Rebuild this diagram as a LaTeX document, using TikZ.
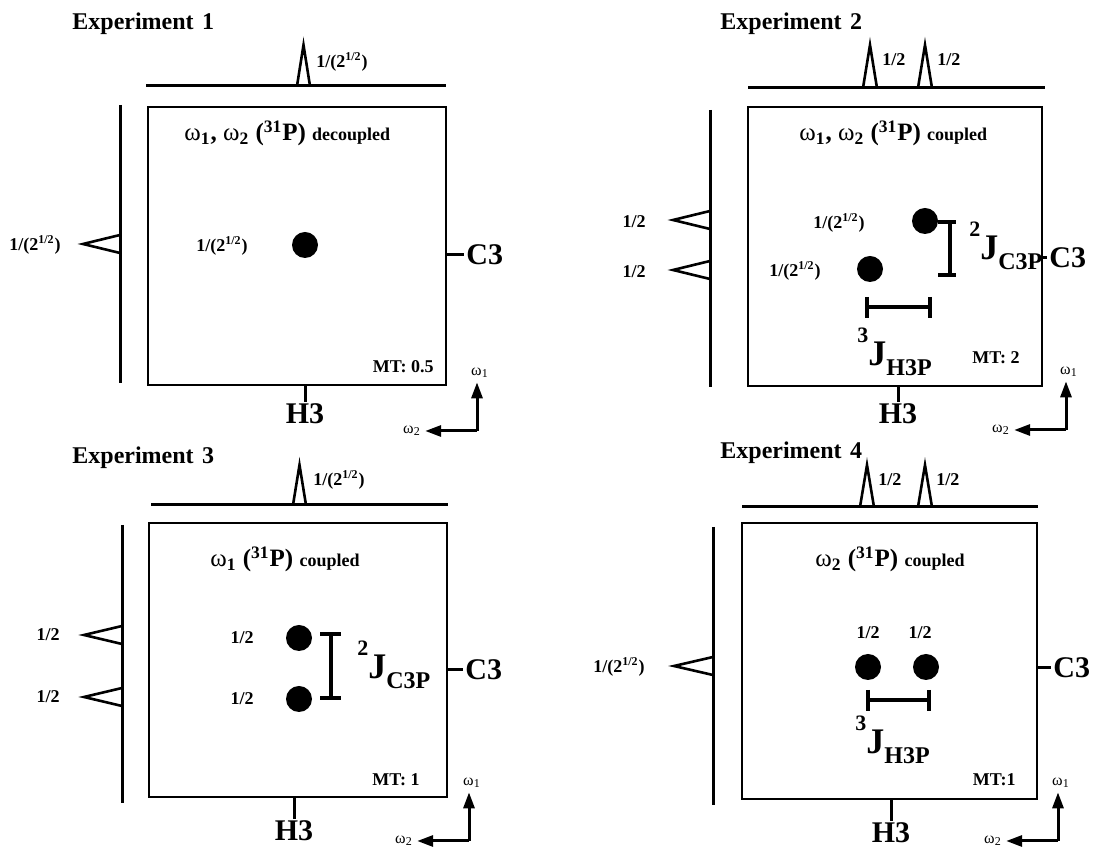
\documentclass[tikz,border=0pt]{standalone}
\usepackage{fontspec}
\setmainfont{Liberation Serif}
\usetikzlibrary{arrows.meta}
\newcommand{\coupj}[2]{\raisebox{11.5pt}{\fontsize{11}{12}\selectfont #1}{\fontsize{18}{20}\selectfont J}\raisebox{-5pt}{\fontsize{12}{13}\selectfont #2}}
\newcommand{\rtwo}{1/(2\textsuperscript{1/2})}
\newcommand{\phos}{(\textsuperscript{31}P)}
\newcommand{\omg}[1]{{\mdseries ω}\textsubscript{#1}}

\begin{document}
\begin{tikzpicture}[x=0.5pt,y=-0.5pt,
  spec/.style={line width=1.5pt},
  frame/.style={line width=1.1pt},
  peak/.style={line width=1.3pt, line join=miter},
  tick/.style={line width=1.5pt},
  jbar/.style={line width=1.7pt},
  axarr/.style={line width=1.5pt, -{Triangle[length=8pt,width=5.5pt]}},
  spot/.style={circle, fill=black, inner sep=0pt, minimum size=13pt},
  lab/.style={font=\fontsize{9}{10}\selectfont\bfseries, inner sep=1pt},
  ttl/.style={font=\fontsize{12}{14}\selectfont\bfseries, inner sep=0pt},
  hdr/.style={font=\fontsize{12.5}{14}\selectfont\bfseries, inner sep=0pt},
  nuc/.style={font=\fontsize{15}{16}\selectfont\bfseries, inner sep=1pt},
  cpl/.style={font=\bfseries, inner sep=0pt},
  axlab/.style={font=\fontsize{8}{9}\selectfont, inner sep=2pt}]

  \useasboundingbox (0,0) rectangle (1100,849);

  % Experiment 1
  \node[ttl, anchor=base west] (ttlone) at (72,30) {Experiment\hspace{0.35em}1};
  \draw[spec] (146,86) -- (446,86);
  \draw[peak] (297,86) -- (303.5,45) -- (310,86);
  \node[lab, anchor=west] (topone) at (314,62) {\rtwo};
  \draw[frame] (148,107) rectangle (446,385);
  \draw[spec] (120,105) -- (120,383);
  \draw[peak] (120,235) -- (83,244) -- (120,253);
  \node[lab, anchor=east] (sideone) at (63,245) {\rtwo};
  \node[hdr, anchor=base west] (hdrone) at (184,141) {\omg{1}, \omg{2} \phos\ {\fontsize{9}{10}\selectfont decoupled}};
  \node[spot] (dotone) at (305,245) {};
  \node[lab, anchor=east] (dlabone) at (250,246) {\rtwo};
  \node[lab, anchor=east] (mtone) at (436,367) {MT: 0.5};
  \node[nuc, anchor=west] (cone) at (464,255) {C3};
  \draw[tick] (446,255) -- (cone.west);
  \node[nuc] (hone) at (305,414) {H3};
  \draw[tick] (305,385) -- (hone.north);

  % Experiment 2
  \node[ttl, anchor=base west] (ttltwo) at (720,30) {Experiment\hspace{0.35em}2};
  \draw[spec] (748,88) -- (1045,88);
  \foreach \px in {870,925} \draw[peak] ({\px-7},88) -- (\px,45) -- ({\px+7},88);
  \node[lab, anchor=west] (toptwoa) at (880,60) {1/2};
  \node[lab, anchor=west] (toptwob) at (935,60) {1/2};
  \draw[frame] (748,107) rectangle (1042,386);
  \draw[spec] (710,110) -- (710,387);
  \foreach \py in {220,270} \draw[peak] (710,{\py-9}) -- (673,\py) -- (710,{\py+9});
  \node[lab, anchor=east] (sidetwoa) at (648,222) {1/2};
  \node[lab, anchor=east] (sidetwob) at (648,272) {1/2};
  \node[hdr, anchor=base west] (hdrtwo) at (799,141) {\omg{1}, \omg{2} \phos\ {\fontsize{9}{10}\selectfont coupled}};
  \node[spot] (dottwoa) at (925,221) {};
  \node[spot] (dottwob) at (870,269) {};
  \node[lab, anchor=east] (dlabtwoa) at (867,223) {\rtwo};
  \node[lab, anchor=east] (dlabtwob) at (823,271) {\rtwo};
  \draw[jbar] (950,222) -- (950,275) (938,222) -- (956,222) (938,275) -- (956,275);
  \node[cpl, anchor=base west] (jtwoa) at (969,260) {\coupj{2}{C3P}};
  \node[nuc, anchor=west] (ctwo) at (1047,258) {C3};
  \draw[tick] (1042,258) -- (ctwo.west);
  \draw[jbar] (867,307) -- (930,307) (867,297) -- (867,318) (930,297) -- (930,318);
  \node[cpl, anchor=base west] (jtwob) at (857,366) {\coupj{3}{H3P}};
  \node[lab, anchor=east] (mttwo) at (1022,358) {MT: 2};
  \node[nuc] (htwo) at (898,414) {H3};
  \draw[tick] (898,386) -- (htwo.north);

  % Experiment 3
  \node[ttl, anchor=base west] (ttlthree) at (72,464) {Experiment\hspace{0.35em}3};
  \draw[spec] (151,505) -- (448,505);
  \draw[peak] (293,505) -- (299.5,465) -- (306,505);
  \node[lab, anchor=west] (topthree) at (311,480) {\rtwo};
  \draw[frame] (149,523) rectangle (447,797);
  \draw[spec] (122,525) -- (122,803);
  \foreach \py in {635,697} \draw[peak] (122,{\py-9}) -- (84,\py) -- (122,{\py+9});
  \node[lab, anchor=east] (sidethreea) at (62,635) {1/2};
  \node[lab, anchor=east] (sidethreeb) at (62,697) {1/2};
  \node[hdr, anchor=base west] (hdrthree) at (210,567) {\omg{1} \phos\ {\fontsize{9}{10}\selectfont coupled}};
  \node[spot] (dotthreea) at (299,638) {};
  \node[spot] (dotthreeb) at (299,699) {};
  \node[lab, anchor=east] (dlabthreea) at (256,638) {1/2};
  \node[lab, anchor=east] (dlabthreeb) at (256,699) {1/2};
  \draw[jbar] (331,634) -- (331,698) (320,634) -- (341,634) (320,698) -- (341,698);
  \node[cpl, anchor=base west] (jthree) at (357,679) {\coupj{2}{C3P}};
  \node[nuc, anchor=west] (cthree) at (463,670) {C3};
  \draw[tick] (447,670) -- (cthree.west);
  \node[lab, anchor=east] (mtthree) at (422,780) {MT: 1};
  \node[nuc] (hthree) at (294,831) {H3};
  \draw[tick] (294,797) -- (hthree.north);

  % Experiment 4
  \node[ttl, anchor=base west] (ttlfour) at (720,459) {Experiment\hspace{0.35em}4};
  \draw[spec] (742,507) -- (1038,507);
  \foreach \px in {867,925} \draw[peak] ({\px-7},507) -- (\px,465) -- ({\px+7},507);
  \node[lab, anchor=west] (topfoura) at (876,480) {1/2};
  \node[lab, anchor=west] (topfourb) at (934,480) {1/2};
  \draw[frame] (742,523) rectangle (1037,799);
  \draw[spec] (713,527) -- (713,805);
  \draw[peak] (713,657) -- (674,666) -- (713,675);
  \node[lab, anchor=east] (sidefour) at (647,667) {\rtwo};
  \node[hdr, anchor=base west] (hdrfour) at (815,567) {\omg{2} \phos\ {\fontsize{9}{10}\selectfont coupled}};
  \node[spot] (dotfoura) at (868,667) {};
  \node[spot] (dotfourb) at (926,667) {};
  \node[lab] (dlabfoura) at (868,633) {1/2};
  \node[lab] (dlabfourb) at (920,633) {1/2};
  \draw[jbar] (868,700) -- (929,700) (868,690) -- (868,711) (929,690) -- (929,711);
  \node[cpl, anchor=base west] (jfour) at (855,754) {\coupj{3}{H3P}};
  \node[lab, anchor=east] (mtfour) at (1018,780) {MT:1};
  \node[nuc, anchor=west] (cfour) at (1051,668) {C3};
  \draw[tick] (1037,668) -- (cfour.west);
  \node[nuc] (hfour) at (891,833) {H3};
  \draw[tick] (891,799) -- (hfour.north);

  % axis glyphs
  \foreach \cx/\cy [count=\k] in {477/431,1066/430,469/841,1058/841} {
    \coordinate (crn\k) at (\cx,\cy);
    \node[axlab] (wone\k) at ({\cx+3},{\cy-58}) {ω\textsubscript{1}};
    \node[axlab] (wtwo\k) at ({\cx-65},\cy) {ω\textsubscript{2}};
    \draw[axarr] (crn\k) -- (crn\k |- wone\k.south);
    \draw[axarr] (crn\k) -- (wtwo\k.east);
  }

\end{tikzpicture}
\end{document}
